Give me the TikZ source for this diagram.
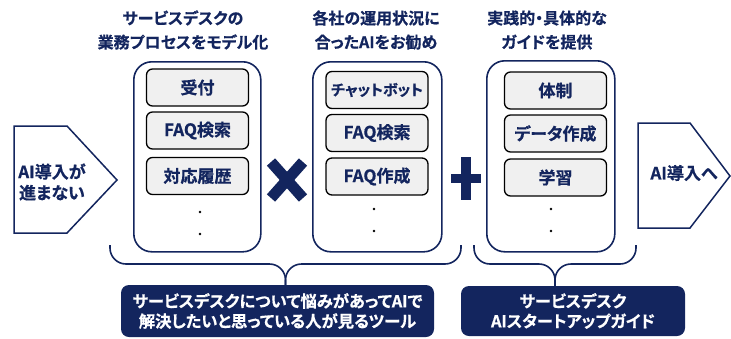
\documentclass[tikz,border=0pt]{standalone}
\usepackage{fontspec}
\setmainfont{Noto Sans CJK JP}[RawFeature=+palt, BoldFont={* Bold}, BoldFeatures={FakeBold=0.6}]
\definecolor{navy}{HTML}{13255E}
\definecolor{itemgray}{HTML}{F0F0F0}
\tikzset{
  outerbox/.style={draw=navy, line width=1.6pt, rounded corners=18pt, anchor=north west, inner sep=0pt},
  itembox/.style={draw=black, line width=1.3pt, fill=itemgray, rounded corners=6pt, minimum width=102pt, minimum height=37pt, inner sep=0pt, text=navy, font=\bfseries\fontsize{17}{18}\selectfont},
  titletext/.style={text=navy, align=center, font=\bfseries\fontsize{16}{24}\selectfont},
  arrowshape/.style={draw=navy, line width=1.5pt, fill=white, line join=miter},
  arrowtext/.style={text=navy, align=center, font=\bfseries\fontsize{17}{21}\selectfont},
  bracepath/.style={draw=navy, line width=1.6pt, rounded corners=16pt},
  footbox/.style={fill=navy, rounded corners=8pt, text=white, align=center, inner sep=0pt, font=\bfseries\fontsize{16.3}{20}\selectfont},
  dotmark/.style={fill=black},
}
\begin{document}
\begin{tikzpicture}[x=1pt,y=-1pt]
\useasboundingbox (0,0) rectangle (731,338);
% titles
\node[titletext] (t1) at (183,30) {サービスデスクの\\業務プロセスをモデル化};
\node[titletext] (t2) at (376,30) {各社の運用状況に\\合ったAIをお勧め};
\node[titletext] (t3) at (547,30) {実践的・具体的な\\ガイドを提供};
% outer boxes
\node[outerbox, minimum width=127pt, minimum height=190pt] (b1) at (133,61) {};
\node[outerbox, minimum width=129pt, minimum height=190pt] (b2) at (312,61) {};
\node[outerbox, minimum width=128pt, minimum height=191pt] (b3) at (486,60) {};
% items
\node[itembox] (i11) at (197.5,87.5) {受付};
\node[itembox] (i12) at (197.5,130.5) {FAQ検索};
\node[itembox] (i13) at (197.5,176) {対応履歴};
\node[itembox, font=\bfseries\fontsize{15}{18}\selectfont] (i21) at (377,90) {チャットボット};
\node[itembox] (i22) at (377,133) {FAQ検索};
\node[itembox] (i23) at (377,176.5) {FAQ作成};
\node[itembox] (i31) at (555.5,90.5) {体制};
\node[itembox] (i32) at (555.5,133.5) {データ作成};
\node[itembox] (i33) at (555.5,177.5) {学習};
% dots
\fill[dotmark] (200,212) circle (1.4);
\fill[dotmark] (200,234) circle (1.4);
\fill[dotmark] (374,209) circle (1.4);
\fill[dotmark] (374,231) circle (1.4);
\fill[dotmark] (551,209) circle (1.4);
\fill[dotmark] (551,231) circle (1.4);
% left arrow
\draw[arrowshape] (14,126) -- (67,126) -- (117,180) -- (67,233) -- (14,233) -- cycle;
\node[arrowtext] (la) at (52,182) {AI導入が\\進まない};
% right arrow
\draw[arrowshape] (638,123) -- (690,123) -- (730,176) -- (690,228) -- (638,228) -- cycle;
\node[arrowtext] (ra) at (684,173) {AI導入へ};
% cross
\draw[navy, line width=11pt] (271,162) -- (303,198);
\draw[navy, line width=11pt] (303,162) -- (271,198);
% plus
\fill[navy] (451,174) rectangle (481,183);
\fill[navy] (461,157) rectangle (471,200);
% braces
\coordinate (lb1) at (110,245);
\coordinate (lb2) at (461,245);
\coordinate (lbt) at (285.5,285);
\coordinate (rb1) at (474,245);
\coordinate (rb2) at (636,245);
\coordinate (rbt) at (555,286);
\draw[bracepath] (lb1) |- (285.5,264) -- (lbt);
\draw[bracepath] (lb2) |- (285.5,264) -- (lbt);
\draw[bracepath] (rb1) |- (555,264) -- (rbt);
\draw[bracepath] (rb2) |- (555,264) -- (rbt);
% footer boxes
\node[footbox, minimum width=313pt, minimum height=52pt] (f1) at (277.5,311) {サービスデスクについて悩みがあってAIで\\解決したいと思っている人が見るツール};
\node[footbox, minimum width=224pt, minimum height=50pt] (f2) at (573,311) {サービスデスク\\AIスタートアップガイド};
\end{tikzpicture}
\end{document}
